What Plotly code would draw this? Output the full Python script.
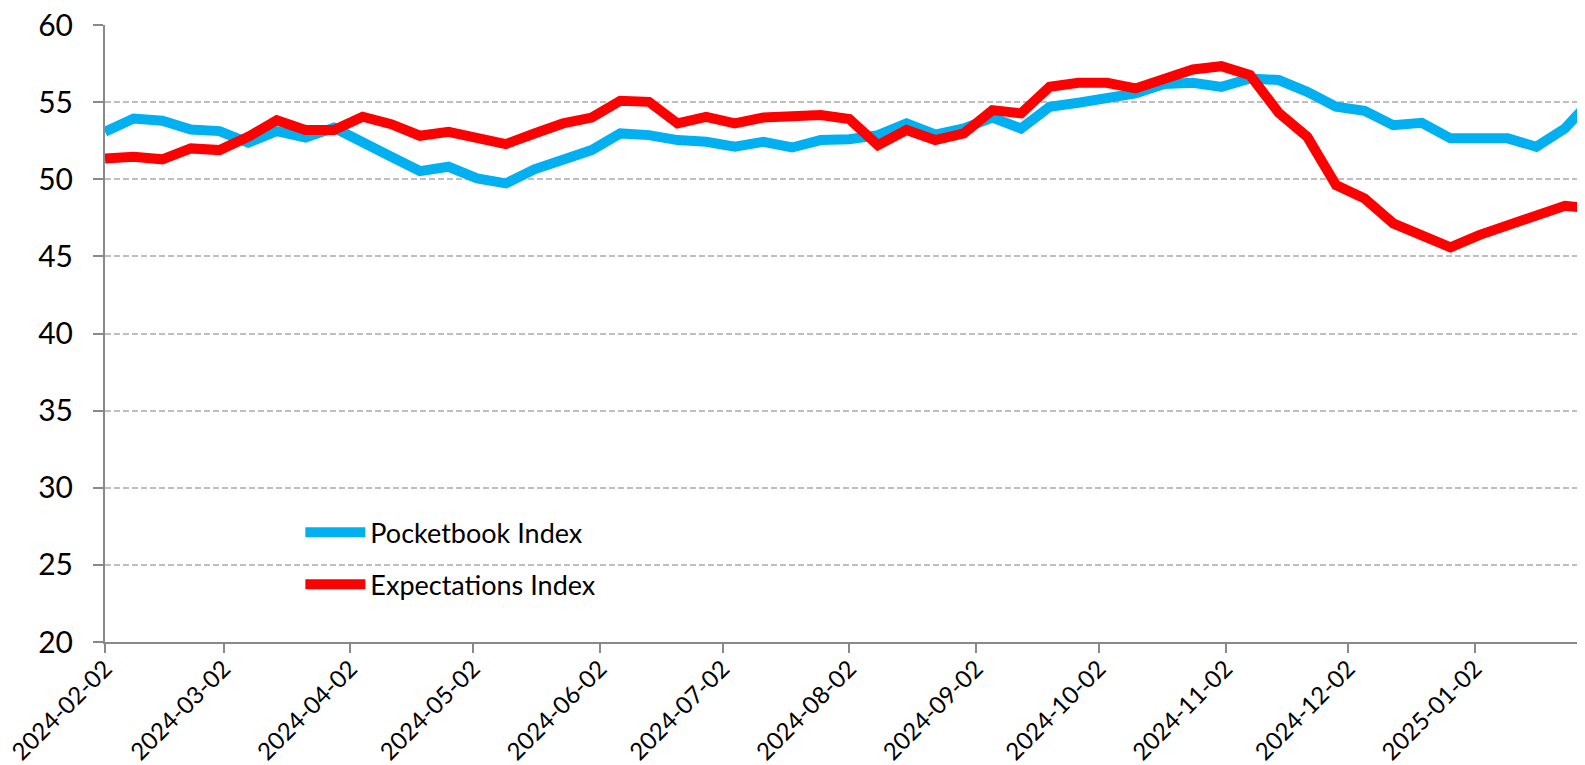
import plotly.graph_objects as go

dates = [
    "2024-02-02", "2024-02-09", "2024-02-16", "2024-02-23",
    "2024-03-01", "2024-03-08", "2024-03-15", "2024-03-22", "2024-03-29",
    "2024-04-05", "2024-04-12", "2024-04-19", "2024-04-26",
    "2024-05-03", "2024-05-10", "2024-05-17", "2024-05-24", "2024-05-31",
    "2024-06-07", "2024-06-14", "2024-06-21", "2024-06-28",
    "2024-07-05", "2024-07-12", "2024-07-19", "2024-07-26",
    "2024-08-02", "2024-08-09", "2024-08-16", "2024-08-23", "2024-08-30",
    "2024-09-06", "2024-09-13", "2024-09-20", "2024-09-27",
    "2024-10-04", "2024-10-11", "2024-10-18", "2024-10-25",
    "2024-11-01", "2024-11-08", "2024-11-15", "2024-11-22", "2024-11-29",
    "2024-12-06", "2024-12-13", "2024-12-20", "2024-12-27",
    "2025-01-03", "2025-01-10", "2025-01-17", "2025-01-24", "2025-01-31",
]

pocketbook = [
    53.08, 53.94, 53.79, 53.23, 53.12, 52.37, 53.12, 52.71, 53.34, 52.32,
    51.46, 50.53, 50.81, 50.05, 49.73, 50.64, 51.24, 51.89, 52.97, 52.86,
    52.54, 52.43, 52.11, 52.43, 52.06, 52.54, 52.60, 52.86, 53.62, 52.90,
    53.29, 54.00, 53.29, 54.70, 54.96, 55.24, 55.56, 56.17, 56.25, 55.99,
    56.53, 56.43, 55.67, 54.70, 54.44, 53.51, 53.66, 52.65, 52.65, 52.65,
    52.11, 53.29, 55.30,
]

expectations = [
    51.35, 51.46, 51.29, 52.00, 51.89, 52.75, 53.83, 53.19, 53.19, 54.05,
    53.57, 52.82, 53.08, 52.60, 52.28, 52.97, 53.62, 54.00, 55.09, 55.02,
    53.62, 54.05, 53.62, 54.00, 54.09, 54.16, 53.90, 52.21, 53.19, 52.54,
    52.97, 54.48, 54.27, 55.99, 56.25, 56.25, 55.89, 56.53, 57.12, 57.33,
    56.75, 54.31, 52.75, 49.62, 48.76, 47.14, 46.38, 45.58, 46.38, 47.03,
    47.57, 48.28, 48.10,
]

tick_dates = [
    "2024-02-02", "2024-03-02", "2024-04-02", "2024-05-02", "2024-06-02",
    "2024-07-02", "2024-08-02", "2024-09-02", "2024-10-02", "2024-11-02",
    "2024-12-02", "2025-01-02",
]

AXIS = "#898989"
FONT = "Lato"

fig = go.Figure()
fig.add_trace(go.Scatter(
    x=dates, y=pocketbook, mode="lines", name="Pocketbook Index",
    legendgroup="a", line=dict(color="#00B0F0", width=10),
))
fig.add_trace(go.Scatter(
    x=dates, y=expectations, mode="lines", name="Expectations Index",
    legendgroup="b", line=dict(color="#FF0000", width=10),
))

# the page body adds an 8px margin, so the figure is sized/offset to compensate
fig.update_layout(
    width=1577, height=757,
    margin=dict(l=97, r=0, t=17, b=123),
    paper_bgcolor="white", plot_bgcolor="white",
    font=dict(family=FONT, color="black"),
    showlegend=True,
    legend=dict(
        x=0.132, y=0.135, xanchor="left", yanchor="middle",
        bgcolor="rgba(0,0,0,0)", font=dict(size=27, family=FONT),
        tracegroupgap=14, traceorder="grouped", itemwidth=60,
    ),
    xaxis=dict(
        type="date", automargin=False, ticklabeloverflow="allow",
        range=["2024-02-02", "2025-01-28 21:40"],
        tickvals=tick_dates, ticktext=tick_dates,
        tickangle=-45, tickfont=dict(size=24, family=FONT),
        ticks="outside", ticklen=9, tickwidth=2, tickcolor=AXIS,
        ticklabelstandoff=-8,
        showline=True, linecolor=AXIS, linewidth=2,
        showgrid=False, zeroline=False,
    ),
    yaxis=dict(
        range=[20, 60], tick0=20, dtick=5, automargin=False,
        ticklabeloverflow="allow",
        tickfont=dict(size=30, family=FONT),
        ticks="outside", ticklen=10, tickwidth=2, tickcolor=AXIS,
        ticklabelstandoff=14,
        showline=True, linecolor=AXIS, linewidth=2,
        showgrid=True, gridcolor="#BFBFBF", gridwidth=1.5,
        griddash="6px,3px", zeroline=False,
    ),
)

fig.write_html("out.html")
